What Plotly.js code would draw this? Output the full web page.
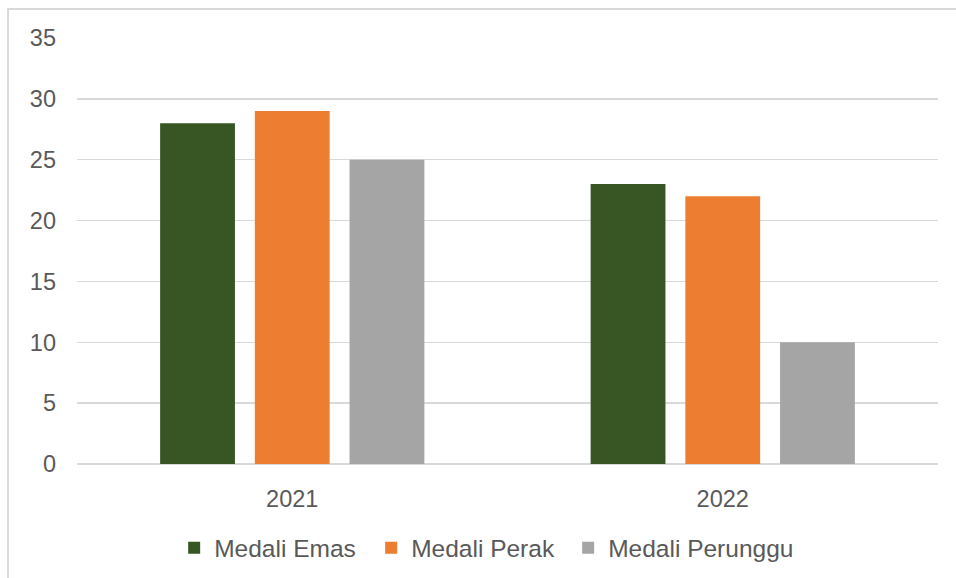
<!DOCTYPE html>
<html>
<head>
<meta charset="utf-8">
<script src="https://cdn.plot.ly/plotly-3.0.1.min.js"></script>
<style>
html,body{margin:0;padding:0;background:#fff;overflow:hidden;}
#chart{width:956px;height:578px;position:absolute;left:0;top:0;}
#frame{position:absolute;left:7px;top:8px;width:1000px;height:700px;border-left:2px solid #d9d9d9;border-top:2px solid #d9d9d9;pointer-events:none;}
</style>
</head>
<body>
<div id="chart"></div>
<div id="frame"></div>
<script>
const years = ['2021', '2022'];
const seriesNames = ['Medali Emas', 'Medali Perak', 'Medali Perunggu'];
const emas = [28, 23];
const perak = [29, 22];
const perunggu = [25, 10];
const colors = ['#375623', '#ED7D31', '#A5A5A5'];
const yTicks = [0, 5, 10, 15, 20, 25, 30, 35];

const values = [emas, perak, perunggu];
const legendWidths = [152, 152, 205];
const traces = seriesNames.map((name, i) => ({
  type: 'bar',
  name: name,
  x: years,
  y: values[i],
  marker: {color: colors[i]},
  legendwidth: legendWidths[i],
  hoverinfo: 'x+y+name'
}));

const tickFont = {family: 'Liberation Sans, Arial, sans-serif', size: 23.5, color: '#595959'};
const legendFont = {family: 'Liberation Sans, Arial, sans-serif', size: 24.5, color: '#595959'};

const layout = {
  width: 956,
  height: 578,
  margin: {l: 77, r: 18, t: 38, b: 114},
  paper_bgcolor: '#ffffff',
  plot_bgcolor: '#ffffff',
  barmode: 'group',
  bargap: 0.34,
  bargroupgap: 0.21,
  font: tickFont,
  showlegend: true,
  legend: {
    orientation: 'h',
    xref: 'container', yref: 'container',
    x: 0.519, xanchor: 'center',
    y: 0.052, yanchor: 'middle',
    font: legendFont,
    itemwidth: 30,
    entrywidthmode: 'pixels',
    tracegroupgap: 0
  },
  xaxis: {
    type: 'category',
    showgrid: false,
    zeroline: false,
    showline: false,
    ticks: '',
    automargin: false,
    ticklabelstandoff: 18,
    tickfont: tickFont
  },
  yaxis: {
    range: [0, 35],
    tickvals: yTicks,
    ticktext: yTicks.map(String),
    showgrid: true,
    gridcolor: '#d9d9d9',
    gridwidth: 1.3,
    zeroline: true,
    zerolinecolor: '#d9d9d9',
    zerolinewidth: 1.3,
    showline: false,
    ticks: '',
    automargin: false,
    ticklabelstandoff: 20,
    tickfont: tickFont
  }
};

Plotly.newPlot('chart', traces, layout, {displayModeBar: false, staticPlot: true});
</script>
</body>
</html>
